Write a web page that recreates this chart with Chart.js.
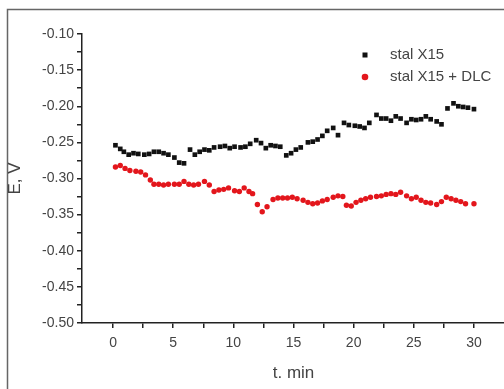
<!DOCTYPE html>
<html>
<head>
<meta charset="utf-8">
<script src="https://cdn.jsdelivr.net/npm/chart.js@4/dist/chart.umd.min.js"></script>
<style>
  html, body { margin: 0; padding: 0; background: #fff; overflow: hidden; }
  canvas { display: block; }
</style>
</head>
<body>
<canvas id="chart" width="509" height="389"></canvas>
<script>
// Axis ticks
const xTicks = [0, 5, 10, 15, 20, 25, 30];
const xMinorTicks = [2.5, 7.5, 12.5, 17.5, 22.5, 27.5];
const yTicks = [-0.10, -0.15, -0.20, -0.25, -0.30, -0.35, -0.40, -0.45, -0.50];
const yMinorTicks = [-0.125, -0.175, -0.225, -0.275, -0.325, -0.375, -0.425, -0.475];

// stal X15 (black squares)
const tSteel = [0.2, 0.6, 0.9, 1.3, 1.7, 2.1, 2.6, 3.0, 3.4, 3.8, 4.2, 4.6, 5.1, 5.5, 5.9,
  6.4, 6.8, 7.2, 7.6, 8.0, 8.4, 8.9, 9.3, 9.7, 10.1, 10.6, 11.0, 11.4, 11.9, 12.3, 12.7,
  13.1, 13.5, 13.9, 14.4, 14.8, 15.2, 15.6, 16.2, 16.6, 17.0, 17.4, 17.8, 18.3, 18.7,
  19.2, 19.6, 20.1, 20.5, 20.9, 21.3, 21.9, 22.3, 22.7, 23.1, 23.5, 23.9, 24.4, 24.8,
  25.2, 25.6, 26.0, 26.4, 26.9, 27.3, 27.8, 28.3, 28.7, 29.1, 29.5, 30.0];
const eSteel = [-0.254, -0.259, -0.263, -0.267, -0.265, -0.266, -0.267, -0.266, -0.263, -0.263,
  -0.265, -0.267, -0.271, -0.278, -0.279,
  -0.260, -0.267, -0.263, -0.260, -0.261, -0.257, -0.256, -0.255, -0.258, -0.256, -0.257,
  -0.256, -0.252, -0.247, -0.251, -0.258, -0.254, -0.255, -0.256, -0.268, -0.265, -0.260,
  -0.257, -0.250, -0.249, -0.246, -0.241, -0.234, -0.230, -0.240, -0.223, -0.226, -0.227,
  -0.228, -0.230, -0.223, -0.212, -0.217, -0.217, -0.220, -0.214, -0.217, -0.223, -0.218,
  -0.219, -0.218, -0.214, -0.218, -0.221, -0.225, -0.203, -0.196, -0.200, -0.201, -0.202,
  -0.204];

// stal X15 + DLC (red circles)
const tCoated = [0.2, 0.6, 1.0, 1.4, 1.9, 2.3, 2.7, 3.1, 3.4, 3.8, 4.2, 4.6, 5.1, 5.5, 5.9,
  6.3, 6.7, 7.1, 7.6, 8.0, 8.4, 8.8, 9.2, 9.6, 10.1, 10.5, 10.9, 11.3, 11.6, 12.0, 12.4,
  12.8, 13.3, 13.7, 14.1, 14.5, 14.9, 15.3, 15.8, 16.2, 16.6, 17.0, 17.4, 17.8, 18.3,
  18.7, 19.1, 19.4, 19.8, 20.2, 20.6, 21.0, 21.4, 21.9, 22.3, 22.7, 23.1, 23.5, 23.9,
  24.4, 24.8, 25.2, 25.6, 26.0, 26.4, 26.9, 27.3, 27.7, 28.1, 28.5, 28.9, 29.3, 30.0];
const eCoated = [-0.284, -0.282, -0.286, -0.289, -0.290, -0.291, -0.295, -0.302, -0.308, -0.308,
  -0.309, -0.308, -0.308, -0.308, -0.304, -0.308, -0.309, -0.308, -0.304, -0.309, -0.318,
  -0.316, -0.315, -0.313, -0.317, -0.318, -0.313, -0.318, -0.321, -0.336, -0.346, -0.339,
  -0.329, -0.327, -0.327, -0.327, -0.326, -0.328, -0.330, -0.333, -0.335, -0.334, -0.331,
  -0.329, -0.326, -0.324, -0.325, -0.337, -0.338, -0.333, -0.330, -0.328, -0.326, -0.325,
  -0.324, -0.322, -0.321, -0.322, -0.319, -0.324, -0.328, -0.326, -0.330, -0.333, -0.334,
  -0.336, -0.332, -0.326, -0.328, -0.330, -0.332, -0.335, -0.335];

const toPoints = (xs, ys) => xs.map((x, i) => ({ x, y: ys[i] }));

const textColor = '#444';
const axisColor = '#222';
const fontFamily = 'Arial, "Liberation Sans", sans-serif';

// Grey frame round the figure
const framePlugin = {
  id: 'frame',
  beforeDraw: (chart) => {
    const ctx = chart.ctx;
    ctx.save();
    ctx.fillStyle = '#fff';
    ctx.fillRect(0, 0, chart.width, chart.height);
    ctx.strokeStyle = '#666';
    ctx.lineWidth = 1.5;
    ctx.strokeRect(7.5, 9.5, 600, 600);
    ctx.restore();
  }
};

// Legend in the upper right of the plot
const legendPlugin = {
  id: 'sideLegend',
  afterDraw: (chart) => {
    const ctx = chart.ctx;
    const area = chart.chartArea;
    ctx.save();
    ctx.font = '15px ' + fontFamily;
    ctx.textBaseline = 'middle';
    chart.data.datasets.forEach((ds, i) => {
      const mx = area.left + 283;
      const my = area.top + 21 + i * 22;
      ctx.fillStyle = ds.backgroundColor;
      if (ds.pointStyle === 'rect') {
        ctx.fillRect(mx - 2.5, my - 2.5, 5, 5);
      } else {
        ctx.beginPath();
        ctx.arc(mx, my, 3.3, 0, Math.PI * 2);
        ctx.fill();
      }
      ctx.fillStyle = textColor;
      ctx.fillText(ds.label, mx + 25, my);
    });
    ctx.restore();
  }
};

new Chart(document.getElementById('chart'), {
  type: 'scatter',
  data: {
    datasets: [
      {
        label: 'stal X15',
        data: toPoints(tSteel, eSteel),
        pointStyle: 'rect',
        pointRadius: 3.3,
        backgroundColor: '#111',
        borderColor: '#111',
        borderWidth: 0,
        showLine: false
      },
      {
        label: 'stal X15 + DLC',
        data: toPoints(tCoated, eCoated),
        pointStyle: 'circle',
        pointRadius: 2.7,
        backgroundColor: '#e3161c',
        borderColor: '#e3161c',
        borderWidth: 0,
        showLine: false
      }
    ]
  },
  options: {
    responsive: false,
    animation: false,
    layout: { padding: { top: 34, left: 0, right: 0, bottom: 0 } },
    plugins: {
      legend: { display: false },
      tooltip: { enabled: false }
    },
    scales: {
      x: {
        type: 'linear',
        min: -2.58,
        max: 32.58,
        afterBuildTicks: (scale) => {
          scale.ticks = xTicks.concat(xMinorTicks).sort((a, b) => a - b).map(v => ({ value: v }));
        },
        afterFit: (scale) => { scale.height = 66; },
        border: { color: axisColor, width: 1.5 },
        grid: { drawOnChartArea: false, drawTicks: true, tickLength: 5, color: axisColor, lineWidth: 1.5 },
        ticks: {
          autoSkip: false,
          maxRotation: 0,
          padding: 7,
          color: textColor,
          font: { family: fontFamily, size: 14 },
          callback: (v) => xTicks.includes(v) ? String(v) : ''
        },
        title: {
          display: true,
          text: 't. min',
          color: textColor,
          font: { family: fontFamily, size: 17 },
          padding: { top: 0, bottom: 5 }
        }
      },
      y: {
        type: 'linear',
        min: -0.50,
        max: -0.10,
        afterBuildTicks: (scale) => {
          scale.ticks = yTicks.concat(yMinorTicks).sort((a, b) => a - b).map(v => ({ value: v }));
        },
        afterFit: (scale) => { scale.width = 82; },
        border: { color: axisColor, width: 1.5 },
        grid: { drawOnChartArea: false, drawTicks: true, tickLength: 5, color: axisColor, lineWidth: 1.5 },
        ticks: {
          autoSkip: false,
          padding: 3,
          color: textColor,
          font: { family: fontFamily, size: 14 },
          callback: (v) => yTicks.some(t => Math.abs(t - v) < 1e-9) ? v.toFixed(2) : ''
        },
        title: {
          display: true,
          text: 'E, V',
          color: textColor,
          font: { family: fontFamily, size: 17 },
          padding: { top: 5, bottom: 0 }
        }
      }
    }
  },
  plugins: [framePlugin, legendPlugin]
});
</script>
</body>
</html>
